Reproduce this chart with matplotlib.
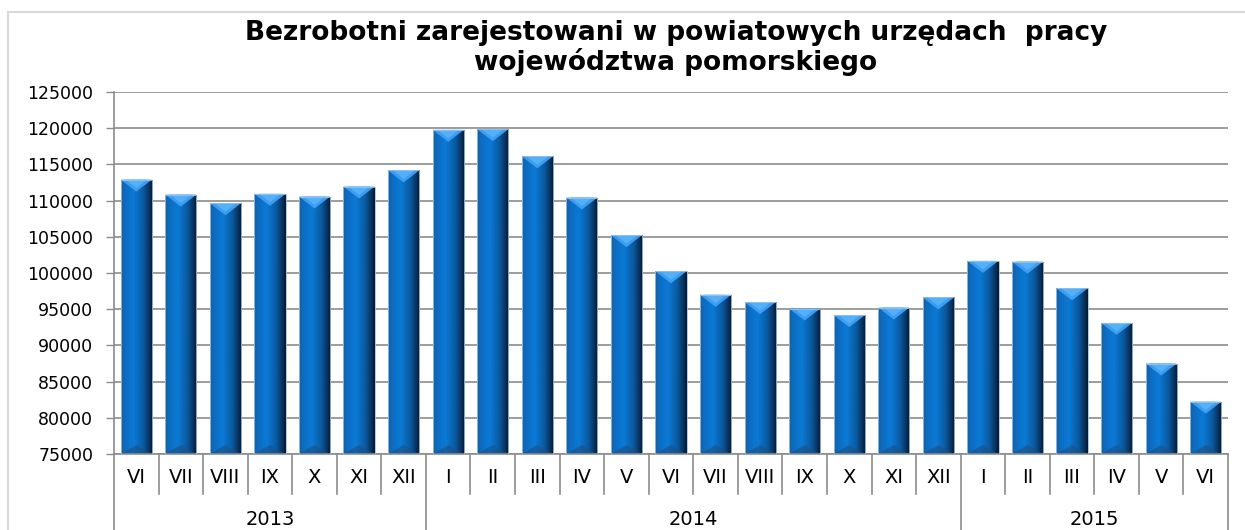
import numpy as np
import matplotlib
matplotlib.use("Agg")
import matplotlib.pyplot as plt
from matplotlib.patches import Rectangle, Polygon
from matplotlib.colors import LinearSegmentedColormap
import matplotlib.transforms as mtransforms

# data
years = ["2013", "2014", "2015"]
months_2013 = ["VI", "VII", "VIII", "IX", "X", "XI", "XII"]
months_2014 = ["I", "II", "III", "IV", "V", "VI", "VII", "VIII", "IX", "X", "XI", "XII"]
months_2015 = ["I", "II", "III", "IV", "V", "VI"]
values_2013 = [112900, 110830, 109630, 110930, 110560, 111940, 114170]
values_2014 = [119770, 119860, 116110, 110420, 105230, 100230, 96990, 95970, 95090,
               94170, 95230, 96620]
values_2015 = [101670, 101570, 97870, 93100, 87500, 82220]

months = months_2013 + months_2014 + months_2015
values = values_2013 + values_2014 + values_2015
group_sizes = [len(months_2013), len(months_2014), len(months_2015)]

ymin, ymax = 75000, 125000

fig = plt.figure(figsize=(12.45, 5.30), dpi=100)
ax = fig.add_axes([114 / 1245, 76 / 530, 1114 / 1245, 362 / 530])

# chart area border
fig.add_artist(Rectangle((8 / 1245, -0.1), 1.2, (530 - 12) / 530 + 0.1,
                         transform=fig.transFigure, fill=False,
                         ec="#d9d9d9", lw=1.5))

x = np.arange(len(values))
width = 0.7
bars = ax.bar(x, np.array(values) - ymin, bottom=ymin, width=width,
              color="none", edgecolor="#9fc3e6", linewidth=0.6, zorder=3)

# cylinder-like horizontal shading
cmap = LinearSegmentedColormap.from_list("bar", [
    (0.0, "#1b5e9e"), (0.12, "#0d6cc0"), (0.4, "#0a7ad6"),
    (0.7, "#0a5aa0"), (0.88, "#0a3564"), (1.0, "#061a30")])
grad = np.linspace(0, 1, 64).reshape(1, -1)
bevel = (ymax - ymin) * 12 / 362
foot = (ymax - ymin) * 9 / 362
for rect, v in zip(bars, values):
    x0 = rect.get_x()
    w = rect.get_width()
    im = ax.imshow(grad, cmap=cmap, aspect="auto", extent=[x0, x0 + w, ymin, v],
                   zorder=2, interpolation="bicubic")
    im.set_clip_path(rect)
    # top bevel
    ax.add_patch(Polygon([[x0, v], [x0 + w, v], [x0 + w * 0.5, v - bevel]],
                         closed=True, fc="#3d9df0", ec="none", zorder=2.5))
    ax.add_patch(Polygon([[x0 + w * 0.15, v], [x0 + w * 0.85, v],
                          [x0 + w * 0.5, v - bevel * 0.7]],
                         closed=True, fc="#55b0fa", ec="none", zorder=2.6))
    # bottom bevel
    ax.add_patch(Polygon([[x0, ymin], [x0 + w, ymin], [x0 + w * 0.5, ymin + foot]],
                         closed=True, fc="#1d4f82", ec="none", alpha=0.6, zorder=2.5))

ax.set_xlim(-0.5, len(values) - 0.5)
ax.set_ylim(ymin, ymax)
ax.set_yticks(np.arange(ymin, ymax + 1, 5000))
ax.yaxis.grid(True, color="#8c8c8c", lw=1.2, zorder=0)
ax.set_axisbelow(True)
ax.tick_params(axis="y", length=6, width=1.0, color="#8c8c8c", pad=9, labelsize=12.5)

ax.set_xticks(x)
ax.set_xticklabels(months, fontsize=14)
ax.tick_params(axis="x", length=0, pad=10)

for side in ["top", "right"]:
    ax.spines[side].set_visible(False)
for side in ["left", "bottom"]:
    ax.spines[side].set_color("#8c8c8c")
    ax.spines[side].set_linewidth(1.2)

# category separators below the axis
trans = mtransforms.blended_transform_factory(ax.transData, ax.transAxes)
bounds = np.cumsum([0] + group_sizes) - 0.5
for b in np.arange(len(values) + 1) - 0.5:
    if b in bounds:
        ax.plot([b, b], [0, -0.25], transform=trans, color="#8c8c8c", lw=1.2,
                clip_on=False)
    else:
        ax.plot([b, b], [0, -0.11], transform=trans, color="#8c8c8c", lw=1.2,
                clip_on=False)
for i, yr in enumerate(years):
    ax.text((bounds[i] + bounds[i + 1]) / 2, -0.18, yr, transform=trans,
            ha="center", va="center", fontsize=14)

fig.text(676 / 1245, 1 - 48 / 530,
         "Bezrobotni zarejestowani w powiatowych urzędach  pracy\nwojewództwa pomorskiego",
         ha="center", va="center", fontsize=19, fontweight="bold", linespacing=1.12)

fig.savefig("out.png", dpi=100)
